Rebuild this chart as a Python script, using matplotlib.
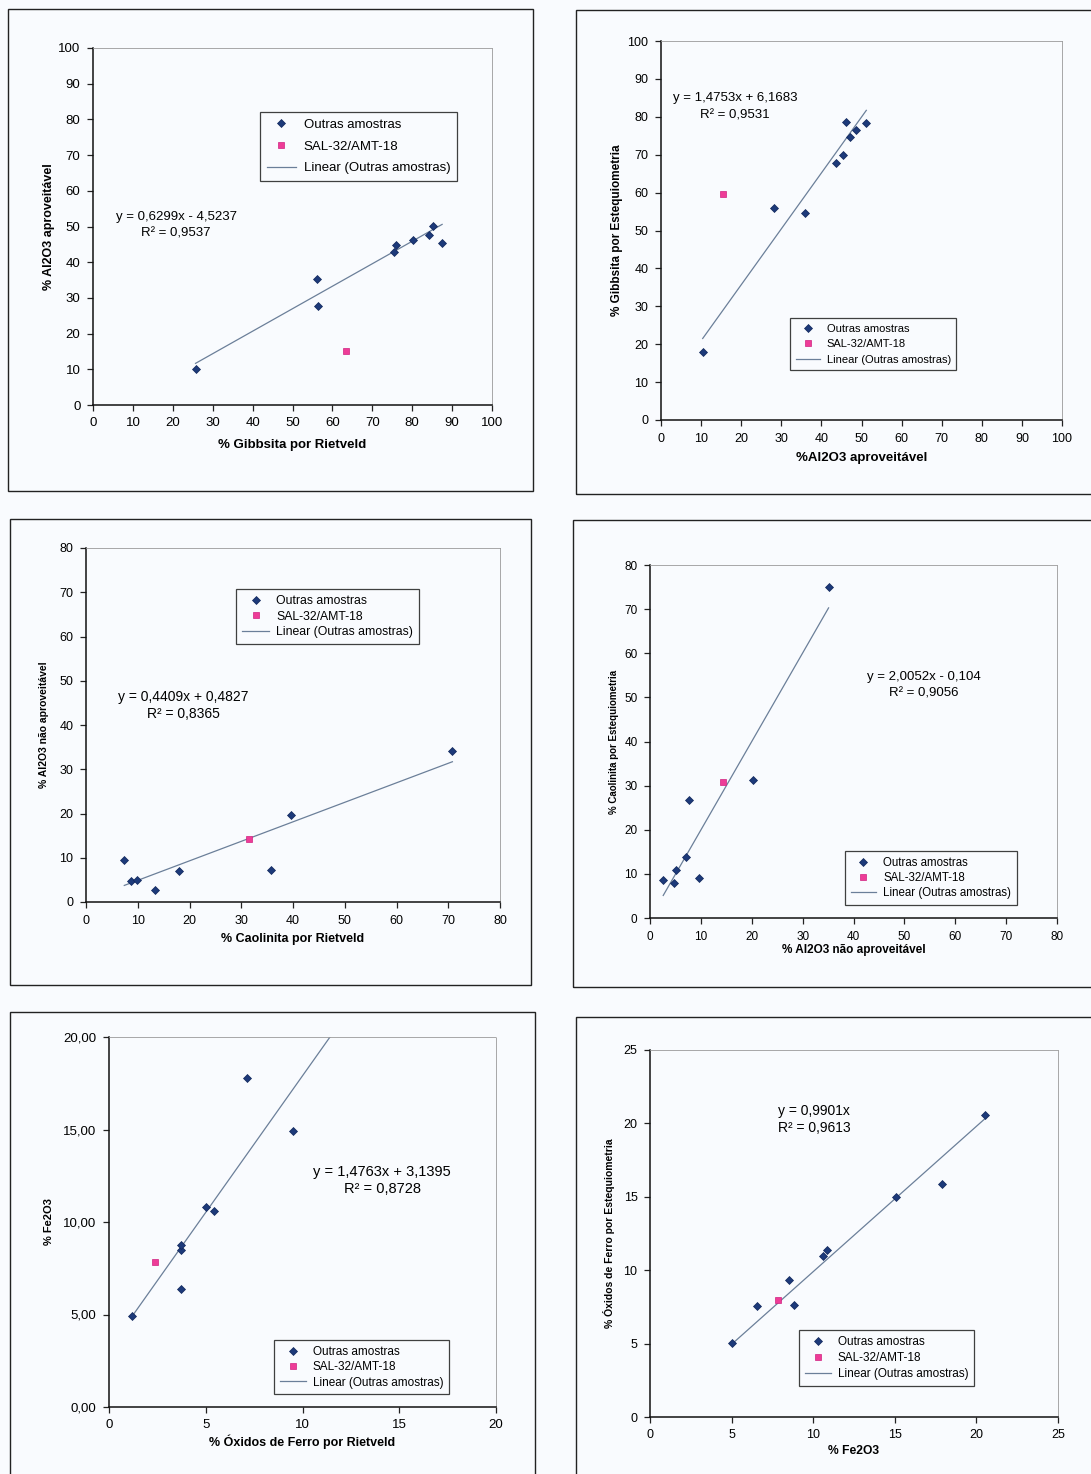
import matplotlib
matplotlib.use("Agg")
import matplotlib.pyplot as plt
from matplotlib.patches import Rectangle
from matplotlib.ticker import FuncFormatter

plt.rcParams['font.family'] = ['Liberation Sans', 'DejaVu Sans']

W, H = 1091, 1474
BG = '#f9fbfe'
AZUL = '#1d3a7a'
ROSA = '#ee3c97'
LINHA = '#6b7f99'

# % Gibbsita por Rietveld x % Al2O3 aproveitável
gib_rietveld = [25.7, 56.2, 56.5, 75.9, 75.5, 80.1, 84.3, 85.1, 87.5]
al2o3_aprov = [10.1, 35.3, 27.7, 44.8, 42.9, 46.1, 47.7, 50.2, 45.5]
sal_gib_rietveld = [63.3]
sal_al2o3_aprov = [15.2]

# % Al2O3 aproveitável x % Gibbsita por estequiometria
al2o3_aprov_b = [10.4, 28.3, 35.8, 43.6, 45.3, 47.1, 48.7, 46.1, 51.2]
gib_esteq = [17.9, 55.9, 54.7, 67.9, 69.8, 74.6, 76.5, 78.5, 78.4]
sal_al2o3_aprov_b = [15.5]
sal_gib_esteq = [59.6]

# % Caolinita por Rietveld x % Al2O3 não aproveitável
caol_rietveld = [7.4, 8.7, 9.8, 13.3, 17.9, 35.7, 39.7, 70.8]
al2o3_nao = [9.5, 4.7, 4.9, 2.6, 7.1, 7.2, 19.7, 34.1]
sal_caol_rietveld = [31.5]
sal_al2o3_nao = [14.2]

# % Al2O3 não aproveitável x % Caolinita por estequiometria
al2o3_nao_b = [2.6, 4.8, 5.1, 7.1, 7.7, 9.6, 20.2, 35.1]
caol_esteq = [8.7, 8.0, 10.8, 13.8, 26.8, 9.1, 31.3, 75.0]
sal_al2o3_nao_b = [14.4]
sal_caol_esteq = [30.8]

# % Óxidos de ferro por Rietveld x % Fe2O3
fe_rietveld = [1.19, 3.72, 3.72, 3.72, 5.03, 5.43, 7.12, 9.53]
fe2o3 = [4.94, 6.39, 8.47, 8.76, 10.79, 10.61, 17.78, 14.90]
sal_fe_rietveld = [2.38]
sal_fe2o3 = [7.82]

# % Fe2O3 x % Óxidos de ferro por estequiometria
fe2o3_b = [5.02, 6.54, 8.54, 8.82, 10.62, 10.83, 15.05, 17.91, 20.5]
fe_esteq = [5.04, 7.56, 9.31, 7.65, 11.0, 11.36, 14.97, 15.9, 20.57]
sal_fe2o3_b = [7.82]
sal_fe_esteq = [7.95]

# coeficientes das retas de tendência (inclinação, intercepto, R²)
tendencias = [(0.6299, -4.5237, 0.9537), (1.4753, 6.1683, 0.9531),
              (0.4409, 0.4827, 0.8365), (2.0052, -0.104, 0.9056),
              (1.4763, 3.1395, 0.8728), (0.9901, 0.0, 0.9613)]

equacoes = ["y = 0,6299x - 4,5237", "y = 1,4753x + 6,1683",
            "y = 0,4409x + 0,4827", "y = 2,0052x - 0,104",
            "y = 1,4763x + 3,1395", "y = 0,9901x"]


def fx(x):
    return x / W


def fy(y):
    return 1 - y / H


def moldura(fig, l, t, r, b):
    fig.patches.append(Rectangle((fx(l), fy(b)), fx(r - l), (b - t) / H,
                                 transform=fig.transFigure, fill=False,
                                 edgecolor='#222222', lw=1.0, zorder=0))


def eixo(fig, l, t, r, b):
    ax = fig.add_axes([fx(l), fy(b), fx(r - l), (b - t) / H])
    ax.set_facecolor(BG)
    for s in ['top', 'right']:
        ax.spines[s].set_color('#9a9a9a')
        ax.spines[s].set_linewidth(0.6)
        ax.spines[s].set_linestyle((0, (2, 1)))
    for s in ['left', 'bottom']:
        ax.spines[s].set_color('#111111')
        ax.spines[s].set_linewidth(1.1)
    ax.tick_params(direction='out', length=4, width=0.9, color='#222222')
    return ax


# fs = (ticks, rótulo x, rótulo y, equação, legenda)
paineis = [
    dict(frame=(8, 9, 533, 491), box=(93, 48, 492, 405),
         x=gib_rietveld, y=al2o3_aprov, sx=sal_gib_rietveld, sy=sal_al2o3_aprov,
         xlim=(0, 100), ylim=(0, 100), xt=range(0, 101, 10), yt=range(0, 101, 10),
         xlabel="% Gibbsita por Rietveld", ylabel="% Al2O3 aproveitável",
         xlab_y=445, ylab_x=49, fs=(9.5, 9.5, 9, 9.5, 9.5), ms=(4.2, 5.0), lsp=0.72,
         eq_xy=(176, 217), eq_ha='center', leg=(260, 112), dec=False, extende=False),
    dict(frame=(576, 10, 1100, 494), box=(661, 41, 1062, 420),
         x=al2o3_aprov_b, y=gib_esteq, sx=sal_al2o3_aprov_b, sy=sal_gib_esteq,
         xlim=(0, 100), ylim=(0, 100), xt=range(0, 101, 10), yt=range(0, 101, 10),
         xlabel="%Al2O3 aproveitável", ylabel="% Gibbsita por Estequiometria",
         xlab_y=458, ylab_x=617, fs=(9, 9.5, 8.5, 9.5, 8), ms=(3.6, 4.3), lsp=0.5,
         eq_xy=(735, 98), eq_ha='center', leg=(790, 318), dec=False, extende=False),
    dict(frame=(10, 519, 531, 985), box=(86, 548, 500, 902),
         x=caol_rietveld, y=al2o3_nao, sx=sal_caol_rietveld, sy=sal_al2o3_nao,
         xlim=(0, 80), ylim=(0, 80), xt=range(0, 81, 10), yt=range(0, 81, 10),
         xlabel="% Caolinita por Rietveld", ylabel="% Al2O3 não aproveitável",
         xlab_y=939, ylab_x=44, fs=(9, 9, 7.5, 10, 8.8), ms=(3.6, 4.3), lsp=0.28,
         eq_xy=(183, 697), eq_ha='center', leg=(236, 589), dec=False, extende=False),
    dict(frame=(573, 520, 1100, 987), box=(650, 565, 1057, 918),
         x=al2o3_nao_b, y=caol_esteq, sx=sal_al2o3_nao_b, sy=sal_caol_esteq,
         xlim=(0, 80), ylim=(0, 80), xt=range(0, 81, 10), yt=range(0, 81, 10),
         xlabel="% Al2O3 não aproveitável", ylabel="% Caolinita por Estequiometria",
         xlab_y=950, ylab_x=614, fs=(8.5, 8.5, 7, 9.5, 8.3), ms=(3.6, 4.3), lsp=0.28,
         eq_xy=(924, 677), eq_ha='center', leg=(845, 851), dec=False, extende=False),
    dict(frame=(10, 1012, 535, 1490), box=(109, 1037, 496, 1407),
         x=fe_rietveld, y=fe2o3, sx=sal_fe_rietveld, sy=sal_fe2o3,
         xlim=(0, 20), ylim=(0, 20), xt=range(0, 21, 5), yt=range(0, 21, 5),
         xlabel="% Óxidos de Ferro por Rietveld", ylabel="% Fe2O3",
         xlab_y=1442, ylab_x=49, fs=(9.5, 9, 8, 10.5, 8.5), ms=(3.6, 4.3), lsp=0.28,
         eq_xy=(382, 1172), eq_ha='center', leg=(274, 1340), dec=True, extende=True),
    dict(frame=(576, 1017, 1100, 1490), box=(650, 1050, 1058, 1417),
         x=fe2o3_b, y=fe_esteq, sx=sal_fe2o3_b, sy=sal_fe_esteq,
         xlim=(0, 25), ylim=(0, 25), xt=range(0, 26, 5), yt=range(0, 26, 5),
         xlabel="% Fe2O3", ylabel="% Óxidos de Ferro por Estequiometria",
         xlab_y=1451, ylab_x=609, fs=(9, 8.7, 7.5, 10, 8.5), ms=(3.6, 4.3), lsp=0.35,
         eq_xy=(778, 1111), eq_ha='left', leg=(799, 1330), dec=False, extende=False),
]

fig = plt.figure(figsize=(W / 100, H / 100), dpi=100, facecolor=BG)

for p, (m, b, r2), eq in zip(paineis, tendencias, equacoes):
    moldura(fig, *p['frame'])
    l, t, r, bt = p['box']
    ax = eixo(fig, l, t, r, bt)
    f_tick, f_xl, f_yl, f_eq, f_leg = p['fs']
    ms_d, ms_s = p['ms']

    x0 = min(p['x'])
    x1 = (p['ylim'][1] - b) / m if p['extende'] else max(p['x'])
    ax.plot([x0, x1], [m * x0 + b, m * x1 + b], color=LINHA, lw=0.9,
            label="Linear (Outras amostras)", zorder=2)
    ax.plot(p['x'], p['y'], 'D', color=AZUL, ms=ms_d, mec='#10255a', mew=0.5,
            label="Outras amostras", zorder=3)
    ax.plot(p['sx'], p['sy'], 's', color=ROSA, ms=ms_s, mec='#d02080', mew=0.5,
            label="SAL-32/AMT-18", zorder=3)

    ax.set_xlim(*p['xlim'])
    ax.set_ylim(*p['ylim'])
    ax.set_xticks(list(p['xt']))
    ax.set_yticks(list(p['yt']))
    if p['dec']:
        ax.yaxis.set_major_formatter(FuncFormatter(lambda v, pos: f"{v:.2f}".replace('.', ',')))
    ax.tick_params(labelsize=f_tick, pad=5)

    # rótulos dos eixos
    fig.text(fx((l + r) / 2), fy(p['xlab_y']), p['xlabel'], ha='center', va='center',
             fontsize=f_xl, fontweight='bold')
    fig.text(fx(p['ylab_x']), fy((t + bt) / 2), p['ylabel'], ha='center', va='center',
             rotation=90, fontsize=f_yl, fontweight='bold')

    # equação da reta
    ex, ey = p['eq_xy']
    fig.text(fx(ex), fy(ey), eq, ha=p['eq_ha'], va='center', fontsize=f_eq)
    r2txt = "R² = " + f"{r2:.4f}".replace('.', ',')
    fig.text(fx(ex), fy(ey + 17), r2txt, ha=p['eq_ha'], va='center', fontsize=f_eq)

    h, lab = ax.get_legend_handles_labels()
    order = [1, 2, 0]
    lx, ly = p['leg']
    leg = ax.legend([h[i] for i in order], [lab[i] for i in order], loc='upper left',
                    bbox_to_anchor=(fx(lx), fy(ly)), bbox_transform=fig.transFigure,
                    fontsize=f_leg, frameon=True, fancybox=False, borderaxespad=0,
                    handlelength=2.2, handletextpad=0.6, labelspacing=p['lsp'],
                    borderpad=0.5)
    leg.get_frame().set_edgecolor('#111111')
    leg.get_frame().set_linewidth(0.9)
    leg.get_frame().set_facecolor(BG)

fig.savefig("out.png", dpi=100, facecolor=BG)
